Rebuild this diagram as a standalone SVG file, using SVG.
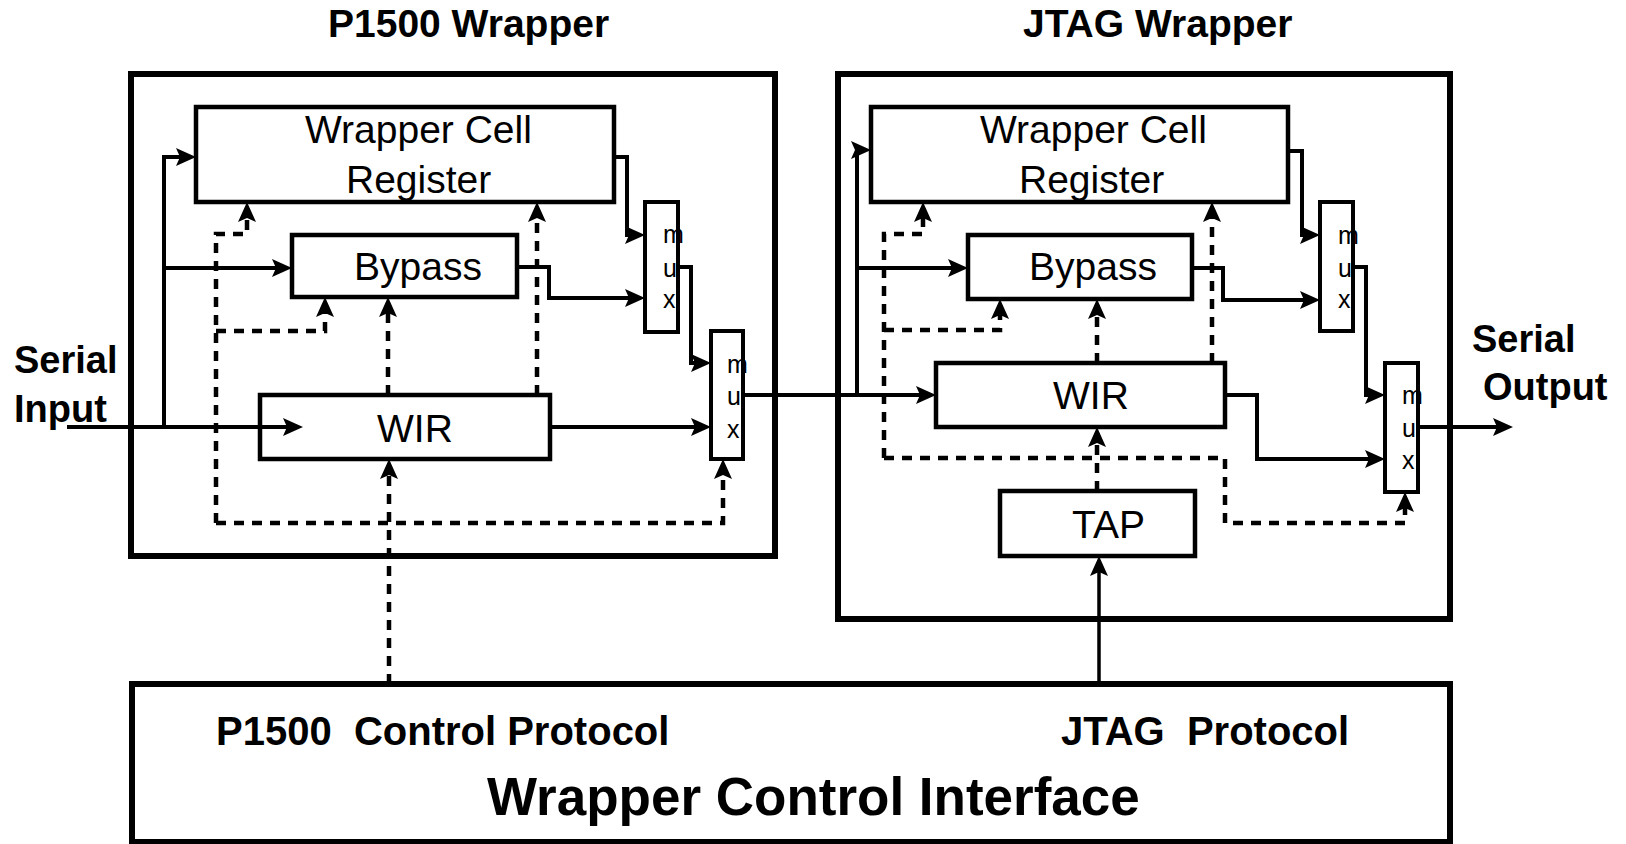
<svg xmlns="http://www.w3.org/2000/svg" width="1626" height="844" viewBox="0 0 1626 844">
  <style>
    .t { font-family: "Liberation Sans", Arial, sans-serif; fill: #000; }
    .b { font-weight: bold; }
    .title { font-size: 39px; }
    .side { font-size: 38px; }
    .lbl { font-size: 39px; }
    .mux { font-size: 25px; }
    .proto { font-size: 40px; white-space: pre; }
    .big { font-size: 53px; }
    .outer { fill: #fff; stroke: #000; stroke-width: 6; }
    .box { fill: #fff; stroke: #000; stroke-width: 4.5; }
    .muxbox { fill: #fff; stroke: #000; stroke-width: 4; }
    .wire { fill: none; stroke: #000; stroke-width: 4; marker-end: url(#arrow); }
    .ctl { fill: none; stroke: #000; stroke-width: 4.5; stroke-dasharray: 10 8; marker-end: url(#arrow); }
  </style>
  <defs>
    <marker id="arrow" viewBox="0 0 20 18" markerUnits="userSpaceOnUse" markerWidth="20" markerHeight="18" refX="14" refY="9" orient="auto">
      <path d="M0,0 L20,9 L0,18 L4,9 z" fill="#000"/>
    </marker>
  </defs>

  <rect width="1626" height="844" fill="#fff"/>

  <!-- headings -->
  <text class="t b title" x="328" y="37">P1500 Wrapper</text>
  <text class="t b title" x="1023" y="37">JTAG Wrapper</text>

  <!-- wrapper frames -->
  <g id="p1500-wrapper">
    <rect class="outer" x="131" y="74" width="644" height="482"/>
  </g>
  <g id="jtag-wrapper">
    <rect class="outer" x="838" y="74" width="612" height="545"/>
  </g>

  <!-- control interface -->
  <g id="wrapper-control-interface">
    <rect class="outer" x="132" y="684" width="1318" height="158"/>
    <text class="t b proto" x="216" y="745">P1500  Control Protocol</text>
    <text class="t b proto" x="1061" y="745">JTAG  Protocol</text>
    <text class="t b big" x="487" y="815">Wrapper Control Interface</text>
  </g>

  <!-- P1500 wrapper contents -->
  <g id="p1500-wcr">
    <rect class="box" x="196" y="107" width="418" height="95"/>
    <text class="t lbl" x="305" y="143">Wrapper Cell</text>
    <text class="t lbl" x="346" y="193">Register</text>
  </g>
  <g id="p1500-bypass">
    <rect class="box" x="292" y="235" width="225" height="62"/>
    <text class="t lbl" x="354" y="280">Bypass</text>
  </g>
  <g id="p1500-wir">
    <rect class="box" x="260" y="395" width="290" height="64"/>
    <text class="t lbl" x="377" y="442">WIR</text>
  </g>
  <g id="p1500-mux1">
    <rect class="muxbox" x="645" y="202" width="33" height="130"/>
    <text class="t mux" x="663" y="243">m</text>
    <text class="t mux" x="663" y="277">u</text>
    <text class="t mux" x="663" y="308">x</text>
  </g>
  <g id="p1500-mux2">
    <rect class="muxbox" x="711" y="331" width="32" height="128"/>
    <text class="t mux" x="727" y="373">m</text>
    <text class="t mux" x="727" y="405">u</text>
    <text class="t mux" x="727" y="438">x</text>
  </g>

  <!-- JTAG wrapper contents -->
  <g id="jtag-wcr">
    <rect class="box" x="871" y="107" width="417" height="95"/>
    <text class="t lbl" x="980" y="143">Wrapper Cell</text>
    <text class="t lbl" x="1019" y="193">Register</text>
  </g>
  <g id="jtag-bypass">
    <rect class="box" x="968" y="235" width="224" height="64"/>
    <text class="t lbl" x="1029" y="280">Bypass</text>
  </g>
  <g id="jtag-wir">
    <rect class="box" x="936" y="363" width="289" height="64"/>
    <text class="t lbl" x="1053" y="409">WIR</text>
  </g>
  <g id="jtag-tap">
    <rect class="box" x="1000" y="491" width="195" height="65"/>
    <text class="t lbl" x="1072" y="538">TAP</text>
  </g>
  <g id="jtag-mux1">
    <rect class="muxbox" x="1320" y="202" width="33" height="129"/>
    <text class="t mux" x="1338" y="244">m</text>
    <text class="t mux" x="1338" y="277">u</text>
    <text class="t mux" x="1338" y="308">x</text>
  </g>
  <g id="jtag-mux2">
    <rect class="muxbox" x="1385" y="363" width="33" height="129"/>
    <text class="t mux" x="1402" y="404">m</text>
    <text class="t mux" x="1402" y="437">u</text>
    <text class="t mux" x="1402" y="469">x</text>
  </g>

  <!-- port labels -->
  <g id="serial-input">
    <text class="t b side" x="14" y="373">Serial</text>
    <text class="t b side" x="14" y="422">Input</text>
  </g>
  <g id="serial-output">
    <text class="t b side" x="1472" y="352">Serial</text>
    <text class="t b side" x="1483" y="400">Output</text>
  </g>

  <!-- connectors -->
  <g id="connectors">
    <!-- scan data paths -->
    <path class="wire" d="M67,427 H297"/>
    <path class="wire" d="M164,427 V157 H190"/>
    <path class="wire" d="M164,268 H286"/>
    <path class="wire" d="M614,157 H627 V235 H639"/>
    <path class="wire" d="M517,267 H549 V298 H639"/>
    <path class="wire" d="M678,267 H691 V363 H705"/>
    <path class="wire" d="M550,427 H705"/>
    <path class="wire" d="M743,395 H930"/>
    <path class="wire" d="M857,395 V150 H865"/>
    <path class="wire" d="M857,268 H962"/>
    <path class="wire" d="M1288,151 H1302 V235 H1314"/>
    <path class="wire" d="M1192,268 H1223 V300 H1314"/>
    <path class="wire" d="M1353,267 H1366 V395 H1379"/>
    <path class="wire" d="M1225,395 H1257 V459 H1379"/>
    <path class="wire" d="M1418,427 H1507"/>
    <path class="wire" style="stroke-width:3.5" d="M1099,684 V562"/>

    <!-- P1500 control signals -->
    <path class="ctl" d="M216,523 V234 H247 V208"/>
    <path class="ctl" d="M216,331 H325 V303"/>
    <path class="ctl" d="M216,523 H723 V465"/>
    <path class="ctl" d="M389,684 V465"/>
    <path class="ctl" d="M388,395 V303"/>
    <path class="ctl" d="M537,395 V208"/>

    <!-- JTAG control signals -->
    <path class="ctl" d="M884,458 V234 H923 V208"/>
    <path class="ctl" d="M884,330 H1000 V305"/>
    <path class="ctl" d="M884,458 H1225 V523 H1405 V498"/>
    <path class="ctl" d="M1097,491 V433"/>
    <path class="ctl" d="M1097,363 V305"/>
    <path class="ctl" d="M1212,363 V208"/>
  </g>
</svg>
